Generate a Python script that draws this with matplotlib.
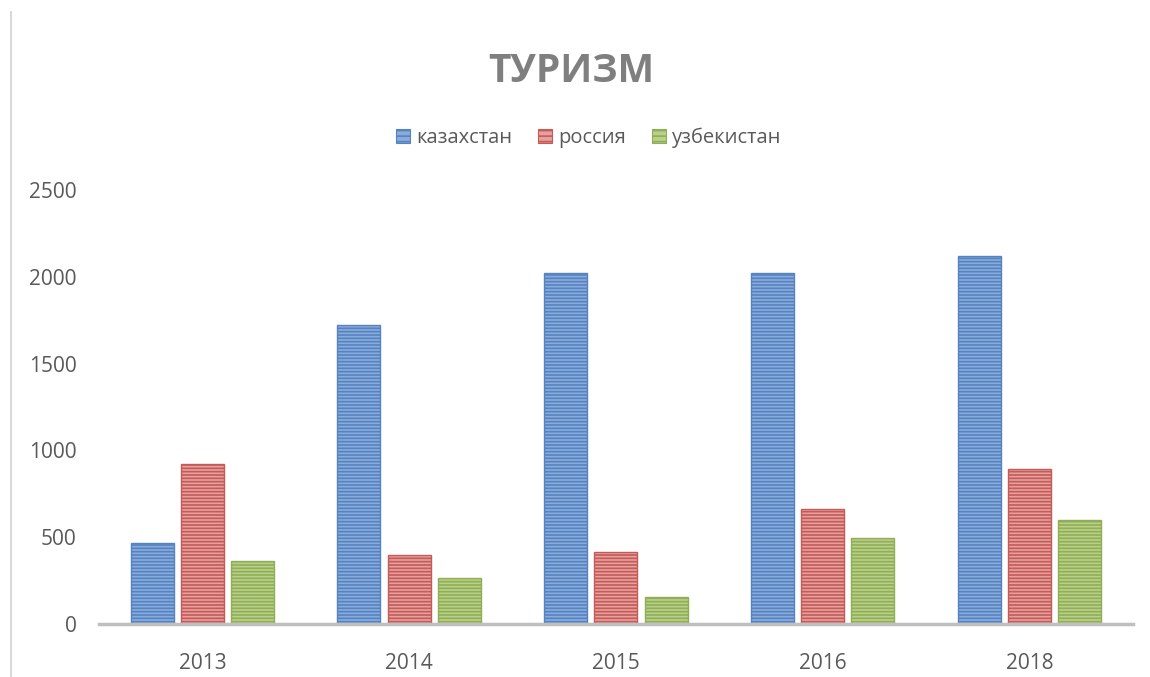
import matplotlib.pyplot as plt
import numpy as np
from matplotlib.lines import Line2D
from matplotlib.patches import Patch

## Data

years = ["2013", "2014", "2015", "2016", "2018"]
series_names = ["казахстан", "россия", "узбекистан"]
kazakhstan = [465, 1720, 2020, 2020, 2120]
russia = [920, 400, 415, 665, 890]
uzbekistan = [365, 265, 155, 495, 600]

face_colors = ["#8aacdc", "#e6a09e", "#bad08a"]
stripe_colors = ["#5583c0", "#c45b58", "#8fae55"]

plt.rcParams["font.family"] = ["Open Sans", "DejaVu Sans"]
plt.rcParams["hatch.linewidth"] = 1.2

## Plot

fig = plt.figure(figsize=(11.5, 6.77), dpi=100)
ax = fig.add_axes([0.0861, 0.0783, 0.8989, 0.6411])

x = np.arange(len(years))
width = 0.207
offset = 0.243
values = [kazakhstan, russia, uzbekistan]
for i, vals in enumerate(values):
    plt.rcParams["hatch.color"] = stripe_colors[i]
    ax.bar(x + (i - 1) * offset, vals, width, color=face_colors[i],
           edgecolor=stripe_colors[i], linewidth=1.0, hatch="-----", zorder=2)

ax.set_xlim(-0.5, len(years) - 0.5)
ax.set_ylim(0, 2500)
ax.set_yticks([0, 500, 1000, 1500, 2000, 2500])
ax.set_xticks(x)
ax.set_xticklabels(years)
ax.tick_params(length=0, labelsize=15, labelcolor="#595959")
ax.tick_params(axis="x", pad=21)
ax.tick_params(axis="y", pad=16)
for s in ["top", "right", "left"]:
    ax.spines[s].set_visible(False)
ax.spines["bottom"].set_color("#bfbfbf")
ax.spines["bottom"].set_linewidth(2.5)

## Title and legend

fig.text(0.497, 0.895, "ТУРИЗМ", ha="center", va="center", fontsize=28,
         fontweight="bold", color="#7f7f7f")

handles = [Patch(facecolor=face_colors[i], edgecolor=stripe_colors[i],
                 hatch="---", linewidth=0.8) for i in range(3)]
fig.legend(handles, series_names, loc="center", bbox_to_anchor=(0.512, 0.796),
           ncol=3, frameon=False, fontsize=14.5, labelcolor="#595959",
           handlelength=0.7, handleheight=0.7, handletextpad=0.3,
           columnspacing=1.3)

## Left page border

fig.add_artist(Line2D([0.0096, 0.0096], [0.0, 0.982], color="#d9d9d9",
                      linewidth=1.5, transform=fig.transFigure))

plt.savefig("out.png", dpi=100)
